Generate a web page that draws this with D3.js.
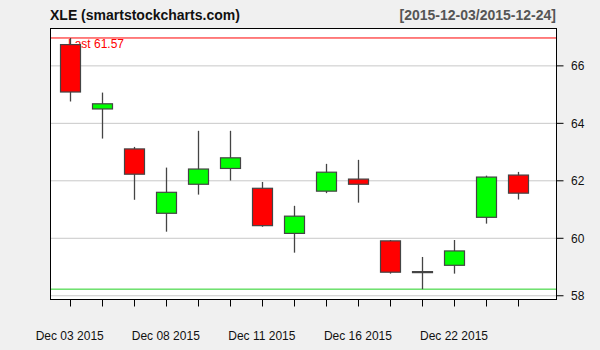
<!DOCTYPE html>
<html><head><meta charset="utf-8">
<script src="https://cdn.jsdelivr.net/npm/d3@7"></script>
<style>body{margin:0;background:#f0f0f0;}svg{display:block;}</style>
</head><body>
<script>
const dates = ["Dec 03 2015","Dec 04 2015","Dec 07 2015","Dec 08 2015","Dec 09 2015","Dec 10 2015","Dec 11 2015","Dec 14 2015","Dec 15 2015","Dec 16 2015","Dec 17 2015","Dec 21 2015","Dec 22 2015","Dec 23 2015","Dec 24 2015"];
const open  = [66.74,64.50,63.11,60.87,61.88,62.43,61.74,60.17,61.64,62.06,59.91,58.84,59.06,60.73,62.20];
const high  = [66.97,65.07,63.18,62.46,63.74,63.74,61.96,61.13,62.59,62.73,59.94,59.35,59.94,62.18,62.31];
const low   = [64.76,63.47,61.34,60.23,61.52,62.01,60.40,59.50,61.57,61.24,58.77,58.23,58.77,60.51,61.35];
const close = [65.09,64.68,62.23,61.60,62.41,62.80,60.44,60.77,62.30,61.88,58.82,58.84,59.56,62.13,61.57];
const yTicks = [58,60,62,64,66];
const labelIdx = [0,3,6,9,12];
const title = "XLE (smartstockcharts.com)";
const range = "[2015-12-03/2015-12-24]";

const W=600,H=350;
const L=50.5,R=556.5,T=28.5,B=299.5;
const svg=d3.select("body").append("svg").attr("width",W).attr("height",H);
svg.append("rect").attr("width",W).attr("height",H).attr("fill","#f0f0f0");
const x=d3.scaleLinear().domain([-0.6,15.2]).range([L,R]);
const y=d3.scaleLinear().domain([57.87,67.3]).range([B,T]);
const font="'Liberation Sans',Arial,sans-serif";

svg.append("rect").attr("x",L).attr("y",T).attr("width",R-L).attr("height",B-T).attr("fill","#fff");

// grid
svg.append("g").selectAll("line").data(yTicks).join("line")
  .attr("x1",L).attr("x2",R).attr("y1",d=>y(d)).attr("y2",d=>y(d))
  .attr("stroke","#c8c8c8").attr("stroke-width",1);

// max/min lines
const maxH=d3.max(high), minL=d3.min(low);
svg.append("line").attr("x1",L).attr("x2",R).attr("y1",y(maxH)).attr("y2",y(maxH)).attr("stroke","#ff0000");
svg.append("line").attr("x1",L).attr("x2",R).attr("y1",y(minL)).attr("y2",y(minL)).attr("stroke","#22d022");

svg.append("text").attr("x",68).attr("y",47.5).attr("fill","#ff0000")
  .attr("font-family",font).attr("font-size",12).text("Last "+close[close.length-1].toFixed(2));

// candles
const idx=d3.range(dates.length);
const g=svg.append("g");
g.selectAll("line.w").data(idx).join("line").attr("class","w")
  .attr("x1",i=>Math.round(x(i))+0.5).attr("x2",i=>Math.round(x(i))+0.5)
  .attr("y1",i=>y(high[i])).attr("y2",i=>y(low[i]))
  .attr("stroke","#444").attr("stroke-width",1.3);
g.selectAll("rect.b").data(idx).join("rect").attr("class","b")
  .attr("x",i=>Math.round(x(i))+0.5-10).attr("width",20)
  .attr("y",i=>y(Math.max(open[i],close[i])))
  .attr("height",i=>Math.max(1,y(Math.min(open[i],close[i]))-y(Math.max(open[i],close[i]))))
  .attr("fill",i=>close[i]>open[i]?"#00ff00":(close[i]<open[i]?"#ff0000":"#444"))
  .attr("stroke","#444").attr("stroke-width",1.2);

// border
svg.append("rect").attr("x",L).attr("y",T).attr("width",R-L).attr("height",B-T)
  .attr("fill","none").attr("stroke","#000").attr("stroke-width",1);

// x ticks
svg.append("g").selectAll("line").data(idx).join("line")
  .attr("x1",i=>Math.round(x(i))+0.5).attr("x2",i=>Math.round(x(i))+0.5)
  .attr("y1",B).attr("y2",306.5).attr("stroke","#000");
svg.append("g").selectAll("text").data(labelIdx).join("text")
  .attr("x",i=>x(i)).attr("y",339.5).attr("text-anchor","middle")
  .attr("font-family",font).attr("font-size",12).attr("fill","#111").text(i=>dates[i]);

// y ticks
svg.append("g").selectAll("line").data(yTicks).join("line")
  .attr("x1",R).attr("x2",563.5).attr("y1",d=>y(d)).attr("y2",d=>y(d)).attr("stroke","#000");
svg.append("g").selectAll("text").data(yTicks).join("text")
  .attr("x",571).attr("y",d=>y(d)+4.5)
  .attr("font-family",font).attr("font-size",12).attr("fill","#111").text(d=>d);

// titles
svg.append("text").attr("x",50).attr("y",20).attr("font-family",font).attr("font-size",14)
  .attr("font-weight","bold").attr("fill","#111").text(title);
svg.append("text").attr("x",556).attr("y",20).attr("text-anchor","end").attr("font-family",font).attr("font-size",14)
  .attr("font-weight","bold").attr("fill","#555").text(range);
</script>
</body></html>
